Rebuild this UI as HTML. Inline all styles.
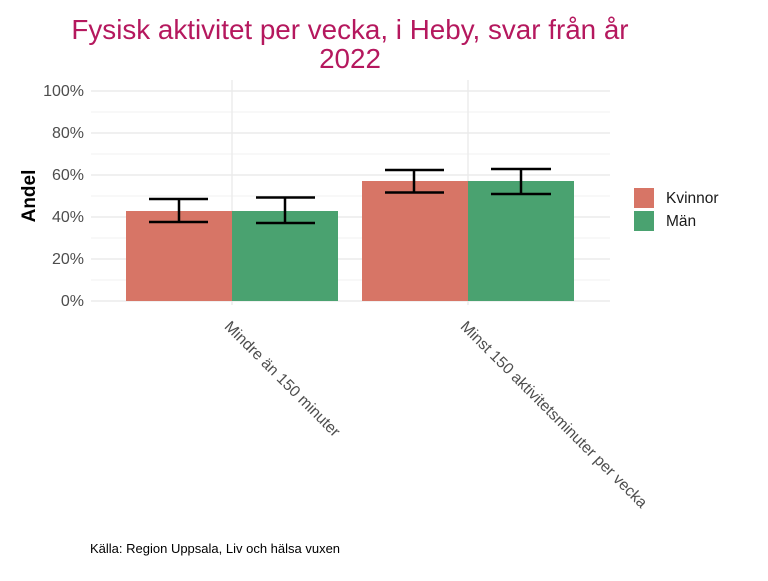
<!DOCTYPE html>
<html><head><meta charset="utf-8"><style>body{margin:0;background:#fff}</style></head><body>
<svg width="768" height="576" xmlns="http://www.w3.org/2000/svg" font-family="Liberation Sans, sans-serif">
<rect width="768" height="576" fill="#fff"/>
<text x="350" y="39" text-anchor="middle" font-size="27.8" fill="#b5185e">Fysisk aktivitet per vecka, i Heby, svar från år</text>
<text x="350" y="68" text-anchor="middle" font-size="27.8" fill="#b5185e">2022</text>
<g stroke="#ebebeb" stroke-width="0.7">
<line x1="91" x2="610" y1="280" y2="280"/><line x1="91" x2="610" y1="238" y2="238"/><line x1="91" x2="610" y1="196" y2="196"/><line x1="91" x2="610" y1="154" y2="154"/><line x1="91" x2="610" y1="112" y2="112"/>
</g>
<g stroke="#ebebeb" stroke-width="1.4">
<line x1="91" x2="610" y1="301" y2="301"/><line x1="91" x2="610" y1="259" y2="259"/><line x1="91" x2="610" y1="217" y2="217"/><line x1="91" x2="610" y1="175" y2="175"/><line x1="91" x2="610" y1="133" y2="133"/><line x1="91" x2="610" y1="91" y2="91"/>
<line x1="232" x2="232" y1="80" y2="305"/><line x1="468" x2="468" y1="80" y2="305"/>
</g>
<g font-size="16" fill="#4d4d4d" text-anchor="end">
<text x="84" y="306">0%</text><text x="84" y="264">20%</text><text x="84" y="222">40%</text><text x="84" y="180">60%</text><text x="84" y="138">80%</text><text x="84" y="96">100%</text>
</g>
<text transform="translate(35,196) rotate(-90)" text-anchor="middle" font-size="19" font-weight="bold">Andel</text>
<rect x="126" y="211" width="106" height="90" fill="#d77566"/>
<rect x="232" y="211" width="106" height="90" fill="#4aa270"/>
<rect x="362" y="181" width="106" height="120" fill="#d77566"/>
<rect x="468" y="181" width="106" height="120" fill="#4aa270"/>
<g stroke="#000" stroke-width="2.5" fill="none">
<path d="M149 199H208M149 222H208M179 199V222"/>
<path d="M256 197.5H315M256 223H315M285 197.5V223"/>
<path d="M385 170H444M385 192.5H444M414 170V192.5"/>
<path d="M491 169H551M491 194H551M521 169V194"/>
</g>
<g font-size="15.6" fill="#4d4d4d">
<text transform="translate(231,320) rotate(45)" dominant-baseline="hanging">Mindre än 150 minuter</text>
<text transform="translate(467,320) rotate(45)" dominant-baseline="hanging">Minst 150 aktivitetsminuter per vecka</text>
</g>
<rect x="634" y="188" width="20" height="20" fill="#d77566"/>
<rect x="634" y="211" width="20" height="20" fill="#4aa270"/>
<g font-size="15.5" fill="#1a1a1a">
<text x="666" y="203">Kvinnor</text><text x="666" y="226">Män</text>
</g>
<text x="90" y="553" font-size="13" fill="#000">Källa: Region Uppsala, Liv och hälsa vuxen</text>
</svg>
</body></html>
